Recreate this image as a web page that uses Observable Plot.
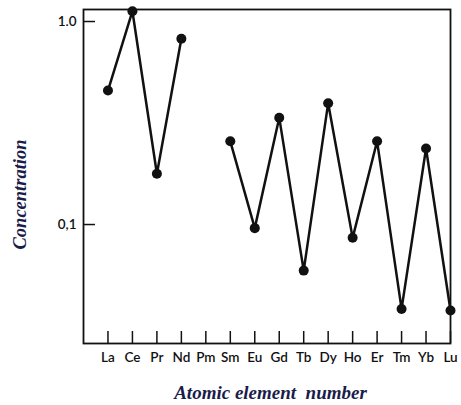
<!DOCTYPE html>
<html>
<head>
<meta charset="utf-8">
<script src="https://cdn.jsdelivr.net/npm/d3@7"></script>
<script src="https://cdn.jsdelivr.net/npm/@observablehq/plot@0.6"></script>
<style>
  html, body { margin: 0; padding: 0; background: #fff; }
</style>
</head>
<body>
<div id="chart"></div>
<script>
const elements = ["La","Ce","Pr","Nd","Pm","Sm","Eu","Gd","Tb","Dy","Ho","Er","Tm","Yb","Lu"];
const concentration = [0.457,1.124,0.178,0.822,null,0.257,0.096,0.336,0.0593,0.396,0.086,0.257,0.0384,0.237,0.0377];
const yTickValues = [1, 0.1];
const yTickLabels = ["1.0", "0,1"];

const data = elements.map((e, i) => ({i, element: e, value: concentration[i]}));
const idx = elements.map((e, i) => i);

const W = 461, H = 405;
const mL = 83, mR = 11, mT = 9, mB = 62;
const frameW = W - mL - mR, frameH = H - mT - mB;
const tickLen = 12;
const ink = "#111";
const titleColor = "#1a1c4a";

const chart = Plot.plot({
  width: W,
  height: H,
  marginLeft: mL,
  marginRight: mR,
  marginTop: mT,
  marginBottom: mB,
  style: {background: "#fff", color: ink},
  x: {type: "linear", domain: [-1, 14]},
  y: {type: "log", domain: [0.02594, 1.146]},
  marks: [
    Plot.frame({stroke: ink, strokeWidth: 1.8}),
    Plot.axisX({ticks: idx, tickSize: 0, tickPadding: 9, tickFormat: i => elements[i],
      fontSize: 13.5, fontFamily: "Lato", fontWeight: 600, fill: ink, label: null}),
    Plot.axisY({ticks: yTickValues, tickSize: 0, tickPadding: 7,
      tickFormat: v => yTickLabels[yTickValues.indexOf(v)],
      fontSize: 13.5, fontFamily: "Lato", fontWeight: 600, fill: ink, label: null}),
    Plot.ruleX(idx, {x: d => d, stroke: ink, strokeWidth: 1.5, insetTop: frameH - tickLen}),
    Plot.ruleY(yTickValues, {y: d => d, stroke: ink, strokeWidth: 1.5, insetRight: frameW - tickLen}),
    Plot.line(data, {x: "i", y: "value", stroke: ink, strokeWidth: 2.5}),
    Plot.dot(data.filter(d => d.value != null), {x: "i", y: "value", r: 5, fill: ink, stroke: "none"}),
    Plot.text(["Concentration"], {frameAnchor: "left", textAnchor: "middle", lineAnchor: "middle",
      rotate: -90, dx: -63, dy: 18, fontSize: 18.5, fontFamily: "Liberation Serif",
      fontStyle: "italic", fontWeight: "bold", fill: titleColor}),
    Plot.text(["Atomic element\u00a0 number"], {frameAnchor: "bottom", textAnchor: "middle", lineAnchor: "middle",
      dx: 3.5, dy: 49, fontSize: 19, fontFamily: "Liberation Serif",
      fontStyle: "italic", fontWeight: "bold", fill: titleColor})
  ]
});
document.getElementById("chart").appendChild(chart);
</script>
</body>
</html>
